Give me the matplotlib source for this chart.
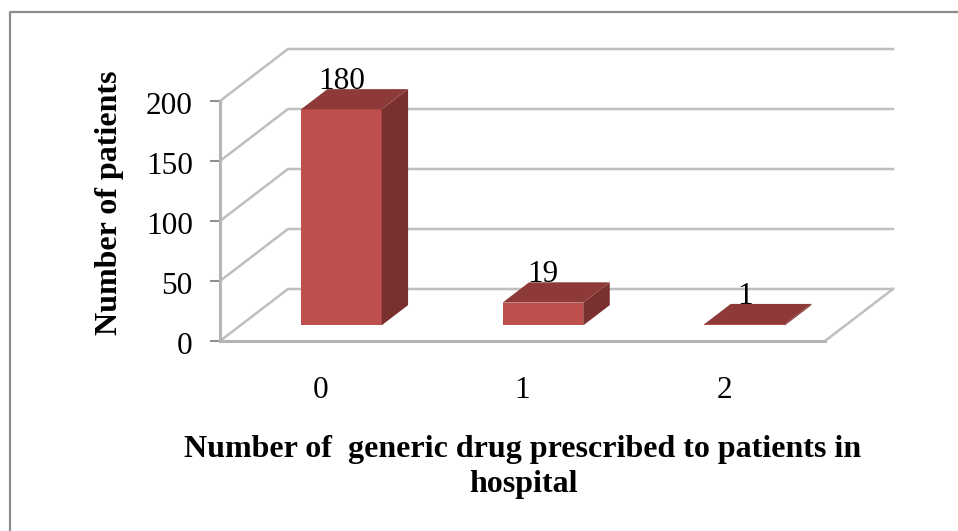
import matplotlib
matplotlib.use('Agg')
import matplotlib.pyplot as plt
from matplotlib.lines import Line2D
from matplotlib.patches import Polygon
from matplotlib.transforms import ScaledTranslation

categories = ['0', '1', '2']
patients = [180, 19, 1]
y_ticks = [0, 50, 100, 150, 200]
x_title = 'Number of  generic drug prescribed to patients in\nhospital'
y_title = 'Number of patients'

W, H = 958, 531
GRID = '#bfbfbf'

plt.rcParams['font.family'] = ['Liberation Serif', 'DejaVu Serif']

fig = plt.figure(figsize=(W / 100, H / 100), dpi=100)
# front plane of the fake 3d box, in pixels: x 220-825, y 341-101
ax = fig.add_axes([220 / W, 1 - 341 / H, 605 / W, 240 / H])
ax.set_xlim(-0.5, 2.5)
ax.set_ylim(0, 200)

# how far one unit of depth moves things, in data units
depth_x = 68 / (605 / 3)
depth_y = 52 / (240 / 200)


def proj(x, y, d):
    return x + d * depth_x, y + d * depth_y


def face(points, color, z):
    ax.add_patch(Polygon([proj(*p) for p in points], closed=True, facecolor=color,
                         edgecolor='none', zorder=z, clip_on=False))


# walls and floor
for v in y_ticks:
    x0, y0 = proj(-0.5, v, 0)
    x1, y1 = proj(-0.5, v, 1)
    x2, y2 = proj(2.5, v, 1)
    ax.plot([x0, x1, x2], [y0, y1, y2], color=GRID, lw=1.8, zorder=1, clip_on=False)
x0, y0 = proj(2.5, 0, 0)
x1, y1 = proj(2.5, 0, 1)
ax.plot([x0, x1], [y0, y1], color=GRID, lw=1.8, zorder=1, clip_on=False)

# bars
half = 0.2
d0, d1 = 0.3, 0.69
for i, v in enumerate(patients):
    l, r = i - half, i + half
    face([(l, 0, d0), (r, 0, d0), (r, v, d0), (l, v, d0)], '#c0504d', 3)
    face([(r, 0, d0), (r, 0, d1), (r, v, d1), (r, v, d0)], '#7a302e', 3)
    face([(l, v, d0), (r, v, d0), (r, v, d1), (l, v, d1)], '#8e3a38', 3)
    # label sits over the front face, at the height of the back edge
    lx = proj(i, v, d0)[0]
    ly = proj(i, v, d1)[1]
    ax.text(lx, ly, str(v), ha='center', va='baseline', fontsize=22.5, color='black',
            zorder=5, clip_on=False)

ax.set_xticks(range(len(categories)))
ax.set_xticklabels(categories, fontsize=22.5)
ax.set_yticks(y_ticks)
ax.tick_params(axis='x', length=0, pad=25)
ax.tick_params(axis='y', length=7.2, width=1.5, color='#909090', labelsize=22.5, pad=12.5)
# y labels sit a little below their ticks in the original
for label in ax.get_yticklabels():
    label.set_transform(label.get_transform() + ScaledTranslation(0, -2 / 100, fig.dpi_scale_trans))
for side in ['top', 'right']:
    ax.spines[side].set_visible(False)
for side in ['left', 'bottom']:
    ax.spines[side].set_color('#b5b5b5')
    ax.spines[side].set_linewidth(2.2)

fig.text(523 / W, 1 - 435 / H, x_title, ha='center', va='top', fontsize=23,
         fontweight='bold', linespacing=1.27)
fig.text(110 / W, 1 - 203 / H, y_title, ha='center', va='center', rotation=90,
         fontsize=23, fontweight='bold')

# outer frame, only top and left show up in the picture
fig.add_artist(Line2D([1, 10 / W, 10 / W], [1 - 12 / H, 1 - 12 / H, 0], color='#8c8c8c', lw=1.6))

fig.savefig('out.png', dpi=100)
